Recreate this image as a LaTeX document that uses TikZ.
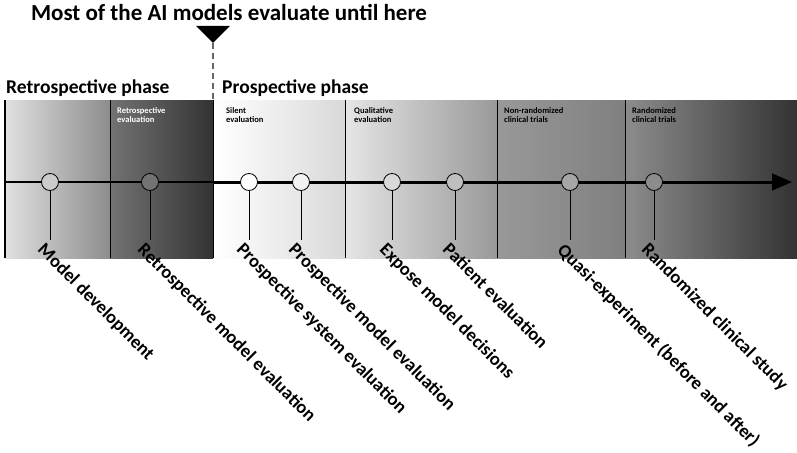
\documentclass[tikz,border=0pt]{standalone}
\usepackage{fontspec}
\setmainfont{Carlito}
\usetikzlibrary{arrows.meta, positioning, calc, shapes.geometric}
\tikzset{
    stage/.style={circle, draw=black, thick, minimum size=17pt, inner sep=0pt},
    stem/.style={draw=black, thin},
    steplabel/.style={rotate=-45, anchor=north west, font=\bfseries\fontsize{18.5}{18.5}\selectfont, inner sep=1pt},
    phaselabel/.style={anchor=south west, font=\bfseries\fontsize{19.5}{19.5}\selectfont, inner sep=1pt},
    bandlabel/.style={anchor=north west, align=left, font=\bfseries\fontsize{8.5}{9}\selectfont, inner sep=1pt},
    arrow/.style={-{Triangle[length=20pt, width=17pt]}, line width=1.4pt},
}
\begin{document}
\begin{tikzpicture}[x=1pt, y=-1pt]
    \useasboundingbox (0,0) rectangle (797,452);
    % bands
    \shade[left color=black!12, right color=black!45] (5,100) rectangle (110,258);
    \shade[left color=black!55, right color=black!80] (110,100) rectangle (213,258);
    \shade[left color=white, right color=black!15] (215,100) rectangle (345,258);
    \shade[left color=black!10, right color=black!40] (345,100) rectangle (497,258);
    \shade[left color=black!40, right color=black!50] (497,100) rectangle (625,258);
    \shade[left color=black!45, right color=black!80] (625,100) rectangle (797,258);
    \draw[line width=1.2pt] (5,100) -- (5,258);
    \foreach \x in {110, 345, 497, 625} \draw (\x,100) -- (\x,258);
    \draw[line width=1pt] (213,100) -- (213,258);
    % marker
    \node[fill=black, isosceles triangle, shape border rotate=-90, isosceles triangle apex angle=90,
          minimum height=17pt, inner sep=0pt] (mark) at (213,33) {};
    \node[anchor=south, font=\bfseries\fontsize{23}{23}\selectfont] (mostai) at (229,24) {Most of the AI models evaluate until here};
    \draw[dash pattern=on 6pt off 4pt, line width=2.5pt, black!60] (mark.south) -- (213,100);
    % phase and band labels
    \node[phaselabel] (retro) at (5,98) {Retrospective phase};
    \node[phaselabel] (prosp) at (221,98) {Prospective phase};
    \node[bandlabel, text=white] (retroeval) at (116,106) {Retrospective\\evaluation};
    \node[bandlabel] (silent) at (225,106) {Silent\\evaluation};
    \node[bandlabel] (qual) at (353,106) {Qualitative\\evaluation};
    \node[bandlabel] (nonrand) at (503,106) {Non-randomized\\clinical trials};
    \node[bandlabel] (rand) at (631,106) {Randomized\\clinical trials};
    % timeline
    \coordinate (tstart) at (5,182);
    \coordinate (tend) at (792,182);
    \draw[arrow] (tstart) -- (tend);
    \draw[line width=3pt] (213,182) -- (775,182);
    \foreach \x/\c/\name/\txt in {
        50/black!20/md/Model development,
        150/black!55/rme/Retrospective model evaluation,
        249/white/pse/Prospective system evaluation,
        301/black!5/pme/Prospective model evaluation,
        392/black!15/emd/Expose model decisions,
        455/black!25/pe/Patient evaluation,
        570/black!35/qe/Quasi-experiment (before and after),
        654/black!45/rcs/Randomized clinical study}{
        \node[stage, fill=\c] (\name) at (\x,182) {};
        \coordinate (\name-end) at (\x,240);
        \draw[stem] (\name) -- (\name-end);
        \node[steplabel] (\name-lbl) at ($(\name-end)+(-4,0)$) {\txt};
    }
\end{tikzpicture}
\end{document}
